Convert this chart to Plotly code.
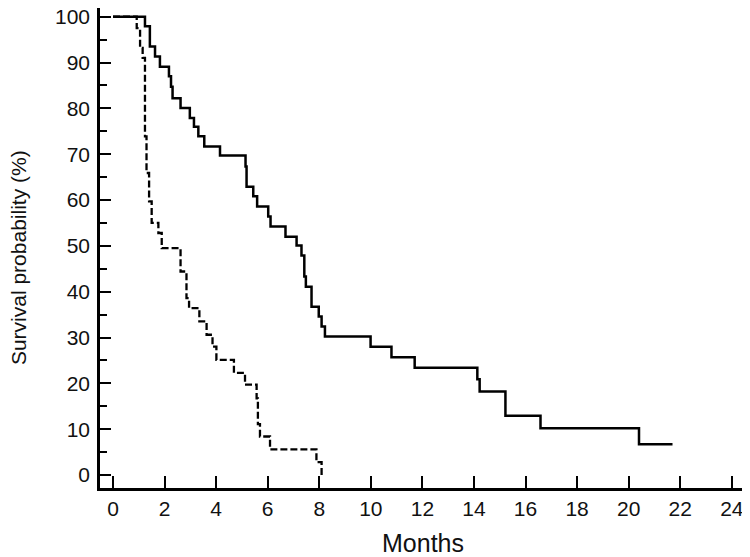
import plotly.graph_objects as go

# Kaplan-Meier steps (months, survival %)
solid_t = [0, 1.24, 1.43, 1.63, 1.82, 2.17, 2.25, 2.31, 2.62, 2.98, 3.14, 3.31, 3.54,
           4.15, 5.14, 5.18, 5.44, 5.59, 6.02, 6.11, 6.69, 7.12, 7.31, 7.42, 7.48,
           7.70, 7.98, 8.09, 8.22, 9.99, 10.80, 11.70, 14.13, 14.22, 15.22, 16.58,
           20.40, 21.70]
solid_s = [100, 97.9, 93.5, 91.3, 89.1, 87.0, 84.7, 82.2, 80.1, 77.9, 76.0, 73.9, 71.7,
           69.7, 67.3, 62.9, 60.8, 58.6, 56.4, 54.2, 52.0, 50.1, 47.9, 43.3, 41.1,
           36.7, 34.6, 32.4, 30.2, 28.0, 25.7, 23.4, 20.9, 18.2, 12.9, 10.2,
           6.7, 6.7]

dash_t = [0, 0.92, 1.05, 1.15, 1.24, 1.30, 1.40, 1.50, 1.76, 1.89, 2.62, 2.85, 2.95,
          3.35, 3.63, 3.86, 4.01, 4.69, 5.12, 5.57, 5.62, 5.70, 6.09, 7.89, 8.09]
dash_s = [100, 97.5, 93.2, 91.0, 73.9, 65.9, 59.7, 55.0, 52.8, 49.5, 44.4, 38.6, 36.4,
          33.5, 30.6, 28.0, 25.1, 22.3, 19.7, 16.7, 11.1, 8.4, 5.6, 2.8, 0]

fig = go.Figure()
fig.add_trace(go.Scatter(x=solid_t, y=solid_s, mode="lines", line_shape="hv",
                         line=dict(color="black", width=2.5), showlegend=False))
fig.add_trace(go.Scatter(x=dash_t, y=dash_s, mode="lines", line_shape="hv",
                         line=dict(color="black", width=2.3, dash="7px,3px"), showlegend=False))

font = dict(family="Liberation Sans, Arial, sans-serif", size=21, color="#111")

# page body has an 8px default margin, so the figure is a bit smaller
fig.update_layout(
    width=742, height=549,
    margin=dict(l=92, r=4, t=0, b=69),
    plot_bgcolor="white", paper_bgcolor="white",
    font=font,
    xaxis=dict(
        range=[-0.504, 24.55], tickvals=list(range(0, 25, 2)),
        ticks="inside", ticklen=12, tickwidth=2, tickcolor="black",
        showline=True, linewidth=2.5, linecolor="black",
        showgrid=False, zeroline=False, automargin=False,
        title=dict(text="Months", standoff=18),
    ),
    yaxis=dict(
        range=[-2.84, 101.9], tickvals=list(range(0, 101, 10)),
        ticks="inside", ticklen=11, tickwidth=2, tickcolor="black",
        ticklabelstandoff=3, ticklabeloverflow="allow",
        minor=dict(tickvals=list(range(5, 101, 10)), ticks="inside", ticklen=7,
                   tickwidth=2, tickcolor="black"),
        showline=True, linewidth=2.5, linecolor="black",
        showgrid=False, zeroline=False, automargin=False,
    ),
)

fig.add_annotation(text="Survival probability (%)", textangle=-90,
                   xref="paper", yref="paper", x=0, y=0.48,
                   xanchor="left", yanchor="middle", xshift=-95,
                   showarrow=False, font=font)

fig.write_html("out.html")
